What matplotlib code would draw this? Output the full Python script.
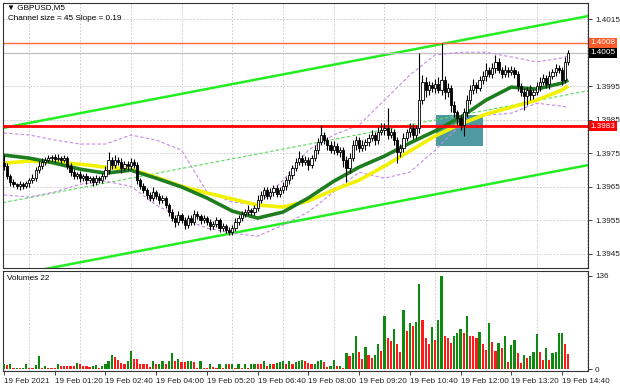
## GBPUSD M5 chart with channel, MAs, bands and volumes
import matplotlib.pyplot as plt
import numpy as np
from matplotlib.patches import Rectangle

BASE = 1.39  # every price list below is in pips above 1.3900

first_open = 72.0
closes = [
    71.1, 68.1, 66.3, 65.7, 65.1, 65.7, 65.1, 66.0, 66.9, 67.5,
    69.9, 71.1, 72.3, 72.9, 73.5, 73.8, 73.2, 73.5, 72.9, 73.5,
    71.1, 69.3, 68.1, 68.7, 67.5, 68.1, 66.9, 67.5, 66.3, 67.5,
    66.9, 68.1, 69.9, 72.9, 71.4, 72.9, 72.3, 70.5, 71.7, 71.1,
    72.3, 71.4, 66.9, 65.1, 64.0, 62.5, 61.6, 63.4, 62.2, 61.0,
    61.6, 59.5, 57.4, 55.6, 54.4, 56.5, 55.0, 53.5, 55.6, 54.4,
    56.8, 56.2, 55.0, 55.6, 54.4, 53.2, 53.8, 55.0, 52.6, 53.2,
    52.0, 51.4, 52.6, 54.4, 55.6, 56.8, 57.4, 58.0, 57.4, 58.6,
    61.0, 62.5, 64.0, 62.2, 63.4, 64.6, 62.8, 64.0, 65.1, 66.9,
    68.4, 70.5, 72.3, 73.5, 72.3, 72.9, 71.4, 73.5, 75.9, 78.3,
    80.4, 78.9, 77.4, 75.9, 77.1, 75.3, 75.9, 72.9, 70.5, 73.5,
    77.4, 78.9, 76.5, 77.4, 78.3, 79.5, 80.4, 78.9, 81.3, 81.9,
    82.5, 80.4, 81.3, 78.9, 75.3, 76.5, 79.5, 81.3, 82.5, 80.4,
    82.5, 90.8, 96.2, 93.8, 95.3, 94.4, 95.6, 93.8, 96.8, 93.2,
    94.4, 89.3, 87.2, 85.4, 83.4, 87.2, 90.8, 93.8, 95.3, 94.4,
    96.8, 98.0, 99.8, 98.6, 100.4, 102.2, 99.8, 98.6, 99.8, 99.2,
    99.8, 98.6, 95.0, 93.2, 92.0, 93.8, 92.3, 93.2, 95.0, 96.2,
    97.4, 95.6, 98.0, 99.2, 100.4, 99.8, 96.8, 102.2, 104.9,
]
hi_wick = [
    2.4, 0.8, 0.6, 0.9, 0.5, 1.0, 0.7, 0.8, 0.6, 1.2,
    1.0, 1.5, 1.2, 0.8, 1.0, 0.6, 0.9, 1.1, 0.7, 0.8,
    0.6, 0.8, 1.0, 0.7, 0.9, 0.6, 1.0, 0.8, 0.7, 1.0,
    0.6, 0.9, 1.2, 2.4, 1.0, 1.5, 0.8, 1.2, 0.9, 1.0,
    1.2, 0.8, 1.0, 0.6, 0.9, 0.7, 0.8, 1.5, 0.6, 0.8,
    1.0, 0.7, 0.6, 0.8, 0.9, 1.2, 0.7, 0.8, 1.0, 0.9,
    1.2, 0.8, 0.7, 1.0, 0.6, 0.8, 1.0, 0.9, 0.7, 0.8,
    0.6, 0.8, 1.0, 1.2, 0.9, 0.8, 1.0, 1.4, 0.7, 1.0,
    1.5, 1.2, 1.0, 0.8, 1.2, 1.0, 0.8, 1.0, 1.2, 1.0,
    1.4, 1.0, 1.2, 2.0, 0.8, 1.2, 0.9, 1.0, 1.5, 1.2,
    3.0, 1.0, 0.8, 1.2, 1.5, 0.9, 1.0, 0.8, 1.2, 1.5,
    1.4, 1.2, 1.0, 1.5, 0.8, 1.2, 1.4, 1.0, 1.6, 2.0,
    1.5, 5.9, 1.2, 1.0, 0.8, 1.2, 1.6, 1.0, 1.5, 1.2,
    1.0, 14.1, 2.0, 1.5, 1.2, 1.0, 1.5, 2.0, 11.0, 1.2,
    1.5, 1.0, 1.2, 0.8, 1.0, 1.4, 1.6, 1.5, 1.8, 1.0,
    1.2, 1.5, 2.0, 1.0, 1.5, 2.1, 1.2, 1.0, 1.4, 1.0,
    1.2, 0.8, 1.0, 0.8, 1.2, 1.0, 1.5, 1.0, 1.2, 1.4,
    1.2, 1.0, 1.5, 1.0, 1.2, 1.0, 0.8, 1.5, 0.9,
]
lo_wick = [
    1.2, 0.8, 1.0, 0.7, 0.9, 1.1, 0.8, 0.6, 1.0, 0.8,
    0.9, 0.7, 0.8, 1.0, 0.6, 0.9, 0.8, 0.7, 1.0, 0.6,
    0.8, 1.0, 0.9, 0.7, 1.2, 0.8, 1.0, 0.7, 1.1, 0.8,
    0.9, 0.7, 0.8, 1.0, 1.2, 0.8, 0.9, 1.5, 0.8, 1.0,
    0.8, 1.0, 1.2, 0.9, 1.0, 1.2, 0.8, 0.9, 1.0, 1.2,
    0.8, 1.0, 1.2, 1.0, 1.5, 0.8, 1.0, 1.2, 0.9, 1.0,
    0.8, 1.0, 1.2, 0.9, 1.0, 1.2, 0.8, 1.0, 1.2, 0.9,
    1.0, 0.9, 0.8, 1.0, 0.8, 1.0, 0.9, 0.8, 1.0, 0.8,
    1.0, 0.8, 1.2, 1.0, 0.9, 1.2, 1.0, 0.8, 1.0, 1.2,
    1.0, 1.2, 0.8, 1.0, 1.2, 0.9, 1.5, 1.0, 0.8, 1.2,
    1.0, 1.2, 1.5, 1.0, 1.2, 1.0, 1.5, 2.0, 4.2, 1.5,
    1.0, 1.5, 1.2, 1.0, 1.5, 1.2, 1.0, 1.5, 1.2, 1.0,
    1.5, 1.2, 1.0, 1.5, 3.3, 1.5, 1.2, 1.0, 1.5, 1.2,
    1.0, 1.5, 1.2, 2.0, 1.5, 1.2, 1.5, 1.0, 1.5, 2.0,
    1.5, 2.0, 1.5, 2.0, 1.5, 3.3, 1.5, 1.0, 1.2, 1.5,
    1.0, 1.2, 1.5, 1.0, 1.2, 1.5, 1.0, 1.2, 1.0, 1.5,
    1.0, 1.2, 1.5, 1.2, 4.2, 2.7, 1.5, 1.2, 1.0, 1.5,
    1.0, 1.2, 1.5, 1.0, 1.2, 1.0, 1.5, 1.0, 0.8,
]
volumes = [
    8, 6, 7, 1, 2, 1, 2, 8, 2, 2, 6, 19, 1, 4, 1, 1, 1, 7, 4, 4,
    4, 4, 4, 9, 8, 5, 5, 3, 5, 6, 2, 5, 7, 12, 20, 18, 13, 9, 7, 12,
    26, 15, 15, 8, 8, 7, 3, 11, 7, 8, 12, 7, 11, 24, 12, 14, 10, 10, 11, 12,
    10, 2, 11, 2, 2, 7, 3, 2, 8, 2, 8, 7, 8, 2, 8, 2, 7, 2, 7, 8,
    8, 8, 11, 5, 8, 8, 9, 10, 11, 7, 11, 8, 10, 12, 13, 11, 9,
    7, 8, 12, 13, 10, 3, 5, 13, 4, 5, 2, 24, 19, 23, 49, 25, 15, 32, 21, 16,
    20, 37, 27, 77, 46, 41, 58, 37, 25, 87, 56, 68, 63, 69, 125, 72, 46, 37, 62, 43,
    71, 136, 49, 45, 38, 49, 52, 59, 52, 78, 49, 49, 46, 54, 36, 28, 67, 40, 27, 38,
    31, 49, 10, 35, 43, 24, 9, 20, 16, 19, 25, 51, 25, 13, 31, 13, 23, 25, 52, 53,
    37, 22,
]

# indicator lines read every 8 bars
ma_bars = [0, 8, 16, 24, 32, 40, 48, 56, 64, 72, 80, 88, 96, 104, 112, 120,
           128, 136, 144, 152, 160, 168, 176, 178]
ma_green = [74.4, 73.5, 72.0, 70.2, 69.0, 69.9, 67.5, 64.9, 61.6, 57.7, 55.6, 57.4,
            61.6, 66.6, 70.8, 74.1, 78.0, 81.6, 85.7, 90.8, 94.7, 94.1, 95.9, 96.8]
ma_yellow = [72.0, 72.6, 72.3, 71.7, 70.8, 70.2, 67.8, 65.1, 63.1, 61.3, 59.5, 58.9,
             60.7, 64.0, 66.9, 71.1, 75.6, 80.1, 83.7, 86.6, 88.7, 90.8, 93.8, 95.0]
band_upper = [81.0, 80.4, 78.9, 77.7, 77.7, 80.4, 78.9, 75.9, 63.4, 60.4, 59.5, 66.9,
              75.9, 80.4, 83.4, 90.8, 98.3, 104.3, 105.1, 105.1, 103.7, 102.2, 103.4, 104.0]
band_lower = [62.5, 61.9, 63.4, 65.7, 66.6, 65.1, 59.5, 55.6, 52.6, 51.1, 50.2, 53.5,
              57.4, 63.4, 69.3, 67.5, 69.3, 75.9, 83.4, 86.3, 86.9, 89.9, 89.0, 88.7]

channel_bars = [-0.3, 184.2]
channel_upper = [82.5, 115.9]
channel_lower = [38.0, 71.4]
channel_mid = [60.2, 93.6]

level_orange = 1.4008
level_red = 1.3983
last_price = 1.4005
zone = (136.4, 151.2, 77.1, 86.5)  # bar from, bar to, pips low, pips high

price_ticks = [1.4015, 1.4005, 1.3995, 1.3985, 1.3975, 1.3965, 1.3955, 1.3945]
time_labels = ["19 Feb 2021", "19 Feb 01:20", "19 Feb 02:40", "19 Feb 04:00",
               "19 Feb 05:20", "19 Feb 06:40", "19 Feb 08:00", "19 Feb 09:20",
               "19 Feb 10:40", "19 Feb 12:00", "19 Feb 13:20", "19 Feb 14:40"]


def px(p):
    return BASE + np.asarray(p, dtype=float) / 10000.0


plt.rcParams["font.family"] = ["Liberation Sans", "DejaVu Sans"]
FS = 5.9

W, H = 620, 388
fig = plt.figure(figsize=(W / 100, H / 100), dpi=100)
fig.patch.set_facecolor("white")
ax = fig.add_axes([3 / W, 1 - 268 / H, 585 / W, 265 / H])
axv = fig.add_axes([3 / W, 1 - 371 / H, 585 / W, 100 / H], sharex=ax)

n = len(closes)
x = np.arange(n)
c = px(closes)
o = np.concatenate([[px(first_open)], c[:-1]])
top = np.maximum(o, c)
bot = np.minimum(o, c)
hi = top + np.asarray(hi_wick) / 10000.0
lo = bot - np.asarray(lo_wick) / 10000.0
up = c >= o

grid_kw = dict(color="#c4c4c4", lw=0.6, ls=(0, (2, 2)))
for a in (ax, axv):
    a.set_xticks(range(0, 185, 8), minor=True)
    a.grid(True, which="minor", axis="x", **grid_kw)
    a.set_axisbelow(True)
    for s in a.spines.values():
        s.set_color("#333333")
        s.set_linewidth(0.8)
for t in price_ticks:
    ax.axhline(t, zorder=0, **grid_kw)

# zone rectangle (background)
ax.add_patch(Rectangle((zone[0], px(zone[2])), zone[1] - zone[0],
                       (zone[3] - zone[2]) / 10000.0,
                       facecolor="#4f9aa0", edgecolor="none", zorder=1))

# channel
ax.plot(channel_bars, px(channel_upper), color="#22ee22", lw=1.8, zorder=2)
ax.plot(channel_bars, px(channel_lower), color="#22ee22", lw=1.8, zorder=2)
ax.plot(channel_bars, px(channel_mid), color="#55dd55", lw=0.8, ls=(0, (3, 2)), zorder=2)

# levels
ax.axhline(level_orange, color="#ff6a3d", lw=1.0, zorder=2)
ax.axhline(last_price, color="#c0c0c0", lw=0.9, zorder=2)
ax.axhline(level_red, color="#ff0000", lw=2.0, zorder=6)

# bands and moving averages
ax.plot(ma_bars, px(band_upper), color="#c58be6", lw=0.8, ls=(0, (3, 2)), zorder=3)
ax.plot(ma_bars, px(band_lower), color="#c58be6", lw=0.8, ls=(0, (3, 2)), zorder=3)
ax.plot(ma_bars, px(ma_yellow), color="#f2f200", lw=2.6, zorder=4, solid_capstyle="butt")
ax.plot(ma_bars, px(ma_green), color="#1e7d1e", lw=2.6, zorder=5, solid_capstyle="butt")

# candles
ax.vlines(x, lo, hi, color="black", lw=0.8, zorder=7)
body = np.maximum(top - bot, 0.00001)
ax.bar(x[up], body[up], bottom=bot[up], width=0.7, color="white",
       edgecolor="black", lw=0.6, zorder=8)
ax.bar(x[~up], body[~up], bottom=bot[~up], width=0.7, color="black",
       edgecolor="black", lw=0.6, zorder=8)

ax.set_xlim(-0.3, 184.2)
ax.set_ylim(px(40.7), px(119.8))
ax.yaxis.tick_right()
ax.set_yticks(price_ticks)
# the 1.4005 label sits under the last-price box, as in the terminal
ax.set_yticklabels(["" if t == last_price else f"{t:.4f}" for t in price_ticks])
ax.tick_params(axis="y", labelsize=FS, length=3, width=0.6, pad=2, colors="#222222")
ax.tick_params(axis="x", which="both", length=0, labelbottom=False)

# price boxes on the right axis
ytr = ax.get_yaxis_transform()
for val, bg in [(level_orange, "#ff5a2a"), (last_price, "black"), (level_red, "#ff0000")]:
    ax.text(1.004, val, f"{val:.4f}", transform=ytr, ha="left", va="center",
            fontsize=FS, color="white", clip_on=False, zorder=20,
            bbox=dict(boxstyle="square,pad=0.18", fc=bg, ec="none"))

# volumes
vcol = ["#0e8a0e" if i == 0 or volumes[i] > volumes[i - 1] else "#ff1a1a"
        for i in range(len(volumes))]
axv.bar(np.arange(len(volumes)), volumes, width=0.7, color=vcol, zorder=3)
axv.set_ylim(-2.9, 143.3)
axv.yaxis.tick_right()
axv.set_yticks([0, 136])
axv.tick_params(axis="y", labelsize=FS, length=3, width=0.6, pad=2, colors="#222222")
axv.set_xticks(range(0, 177, 16))
axv.set_xticklabels(time_labels, ha="left")
axv.tick_params(axis="x", which="major", labelsize=FS, length=3, width=0.6, pad=2,
                colors="#222222")
axv.tick_params(axis="x", which="minor", length=0)

fig.text(7 / W, 1 - 8 / H, "\u25bc GBPUSD,M5", fontsize=FS, va="center", ha="left")
fig.text(8 / W, 1 - 19 / H, "Channel size = 45 Slope = 0.19", fontsize=FS,
         va="center", ha="left")
fig.text(7 / W, 1 - 278 / H, "Volumes 22", fontsize=FS, va="center", ha="left")

fig.savefig("out.png", dpi=100, facecolor="white")
